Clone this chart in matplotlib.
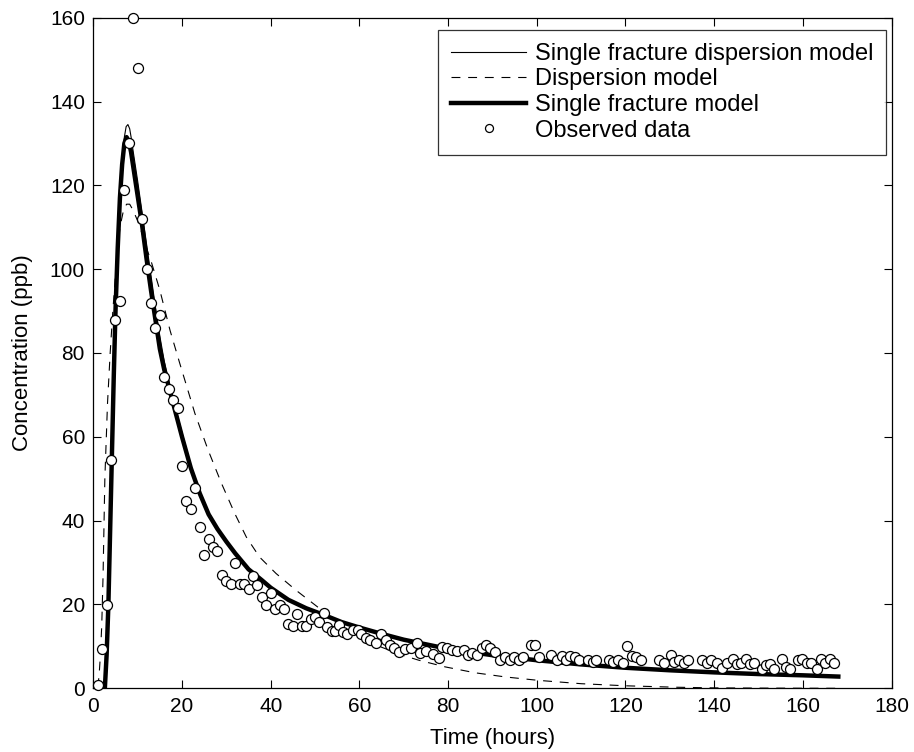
import matplotlib
matplotlib.use("Agg")
import matplotlib.pyplot as plt

plt.rcParams["font.family"] = ["Liberation Sans", "DejaVu Sans"]

# Observed data (hours, ppb)
obs_t = [1.0, 1.9, 3.0, 4.0, 5.0, 6.0, 7.0, 8.0, 9.0, 10.0, 11.0, 12.0, 13.0, 14.0,
         15.0, 16.0, 17.0, 18.0, 19.0, 20.0, 21.0, 22.0, 23.0, 24.0, 25.0, 26.0,
         27.0, 28.0, 29.0, 30.0, 31.0, 32.0, 33.0, 34.0, 35.0, 36.0, 37.0, 38.0,
         39.0, 40.0, 41.0, 42.0, 43.0, 44.0, 45.0, 46.0, 47.0, 48.0, 49.0, 50.0,
         51.0, 52.0, 52.8, 53.8, 54.6, 55.4, 56.2, 57.2, 58.6, 59.6, 60.4, 61.4,
         62.4, 63.7, 64.8, 65.9, 67.0, 67.9, 68.9, 70.2, 71.7, 72.9, 73.6, 75.0,
         76.7, 77.9, 78.6, 79.7, 80.9, 82.0, 83.7, 84.6, 85.5, 86.5, 87.6, 88.6,
         89.5, 90.6, 91.7, 92.8, 93.9, 94.9, 95.9, 96.9, 98.6, 99.6, 100.5, 103.3,
         104.6, 105.6, 106.6, 107.6, 108.6, 109.5, 111.5, 112.7, 113.4, 116.2,
         117.3, 118.3, 119.4, 120.4, 121.4, 122.4, 123.5, 127.5, 128.6, 130.2,
         131.0, 132.1, 133.1, 134.2, 137.3, 138.4, 139.4, 140.7, 141.8, 143.0,
         144.2, 145.2, 146.1, 147.1, 148.0, 149.0, 150.7, 151.6, 152.6, 153.4,
         155.3, 156.2, 157.2, 159.0, 159.9, 160.9, 161.9, 163.1, 164.1, 165.1,
         166.1, 167.1]
obs_c = [0.8, 9.3, 19.8, 54.4, 87.9, 92.4, 119.0, 130.0, 160.0, 148.0, 112.0, 100.0,
         92.0, 86.0, 89.0, 74.2, 71.5, 68.7, 66.8, 53.0, 44.7, 42.7, 47.7, 38.4,
         31.8, 35.6, 33.6, 32.8, 27.0, 25.6, 24.8, 30.0, 24.8, 24.8, 23.6, 26.8,
         24.6, 21.8, 19.8, 22.7, 18.9, 19.8, 18.9, 15.4, 14.8, 17.8, 14.8, 14.8,
         16.6, 16.9, 15.8, 18.0, 14.6, 13.7, 13.6, 15.0, 13.4, 13.0, 14.0, 13.8,
         12.9, 11.9, 11.5, 10.7, 12.9, 11.5, 10.3, 9.5, 8.7, 9.3, 9.7, 10.7, 8.4,
         9.0, 8.3, 7.3, 9.9, 9.7, 9.2, 9.0, 9.2, 7.9, 8.4, 7.9, 9.5, 10.3, 9.5,
         8.7, 6.8, 7.5, 6.8, 7.5, 6.8, 7.5, 10.3, 10.3, 7.5, 7.9, 6.8, 7.6, 6.8,
         7.6, 7.5, 6.8, 6.8, 6.3, 6.8, 6.8, 6.3, 6.8, 6.0, 10.1, 7.6, 7.5, 6.8,
         6.8, 6.0, 7.9, 6.3, 6.8, 6.0, 6.8, 6.8, 6.0, 6.8, 6.0, 4.9, 6.0, 7.1,
         5.9, 6.0, 7.1, 5.9, 6.0, 4.7, 5.5, 5.9, 4.7, 7.1, 5.1, 4.7, 6.8, 7.1,
         6.0, 6.0, 4.7, 7.1, 6.0, 7.1, 6.0]

# Single fracture model (thick)
sf_t = [2.6, 3.0, 3.4, 3.8, 4.2, 4.6, 5.0, 5.5, 6.0, 6.5, 7.0, 7.5, 8.0, 8.5, 9.0,
        9.5, 10, 10.5, 11, 11.5, 12, 13, 14, 15, 16, 17, 18, 19, 20, 22, 24, 26,
        28, 30, 32, 35, 38, 40, 44, 48, 52, 56, 60, 65, 70, 80, 90, 100, 110, 120,
        130, 140, 150, 160, 168]
sf_c = [0, 8, 20, 38, 56, 74, 90, 105, 117, 125, 130, 131.5, 130.5, 128, 124.5,
        121, 117.5, 114, 110.5, 106.5, 102.5, 95, 88, 81, 76, 72, 68, 64, 60, 52.5,
        46.5, 41.5, 38, 35, 32.2, 28.4, 25.8, 24.0, 21.1, 19.1, 17.5, 15.8, 14.5,
        13.0, 11.6, 9.4, 7.9, 6.7, 5.7, 4.9, 4.3, 3.8, 3.4, 3.1, 2.8]

# Single fracture dispersion model (thin)
sfd_t = [2.5, 3.0, 3.4, 3.8, 4.2, 4.6, 5.0, 5.5, 6.0, 6.5, 7.0, 7.4, 7.8, 8.2, 8.6,
         9.0, 9.5, 10, 11, 12, 13, 14, 15, 16, 17, 18, 19, 20, 22, 24, 26, 28, 30,
         32, 35, 38, 40, 44, 48, 52, 56, 60, 65, 70, 80, 90, 100, 110, 120, 130,
         140, 150, 160, 168]
sfd_c = [0, 7, 19, 37, 55, 73, 89, 104, 117, 126, 131.5, 134, 134.5, 133.5, 131,
         128, 124.5, 121, 113.5, 106, 98.5, 91, 84, 78, 73.5, 69, 65, 61, 53.2, 47,
         42, 38.3, 35.2, 32.4, 28.6, 25.9, 24.1, 21.2, 19.2, 17.6, 15.9, 14.6, 13.1,
         11.7, 9.5, 8.0, 6.8, 5.8, 5.0, 4.4, 3.9, 3.5, 3.2, 2.9]

# Dispersion model (dashed)
d_t = [1.0, 1.3, 1.6, 1.9, 2.2, 2.6, 3.2, 3.8, 4.4, 5.1, 6.0, 6.8, 7.5, 8.2, 9.0,
       10, 11, 12, 13, 14, 15, 17.3, 19.5, 22.9, 25.9, 28.9, 31.9, 34.5, 37.5,
       41.2, 45.7, 50.1, 55, 60, 65, 70, 73.4, 79.4, 86.1, 93, 100.3, 110, 120,
       131.7, 140, 150, 160, 168]
d_c = [0.3, 3, 8, 15, 27, 50, 68, 80, 90, 100, 110, 114, 115.5, 115.5, 114, 111.5,
       108.5, 105, 102, 98.5, 95, 85.4, 77.5, 65.6, 56.8, 48.9, 41.7, 36.1, 31.3,
       27.4, 23.4, 19.8, 15.8, 12.4, 9.8, 7.8, 6.7, 5.1, 3.7, 2.7, 1.9, 1.1, 0.6,
       0.25, 0.1, 0.05, 0.02, 0.0]

fig = plt.figure(figsize=(9.14, 7.52), dpi=100)
ax = fig.add_axes([0.1021, 0.0847, 0.8733, 0.8918])

ax.plot(sfd_t, sfd_c, color="black", lw=0.8, label="Single fracture dispersion model")
ax.plot(d_t, d_c, color="black", lw=0.8, dashes=(8, 7), label="Dispersion model")
ax.plot(sf_t, sf_c, color="black", lw=3.2, label="Single fracture model")
ax.plot(obs_t, obs_c, "o", ms=7.2, mfc="white", mec="black", mew=0.9,
        ls="none", label="Observed data", zorder=5, clip_on=False)

ax.set_xlim(0, 180)
ax.set_ylim(0, 160)
ax.set_xticks(range(0, 181, 20))
ax.set_yticks(range(0, 161, 20))
ax.tick_params(direction="in", length=6, width=0.8, top=True, right=True,
               labelsize=15, pad=6)
for s in ax.spines.values():
    s.set_linewidth(0.9)

ax.set_xlabel("Time (hours)", fontsize=16, labelpad=9)
ax.set_ylabel("Concentration (ppb)", fontsize=16, labelpad=12)

leg = ax.legend(loc="upper right", bbox_to_anchor=(0.9934, 0.9817),
                borderaxespad=0, fontsize=17, frameon=True, fancybox=False,
                edgecolor="black", handlelength=3.2, handletextpad=0.35,
                labelspacing=0.15, borderpad=0.55, markerscale=0.8)
leg.get_frame().set_linewidth(0.9)

fig.savefig("out.png", dpi=100)
